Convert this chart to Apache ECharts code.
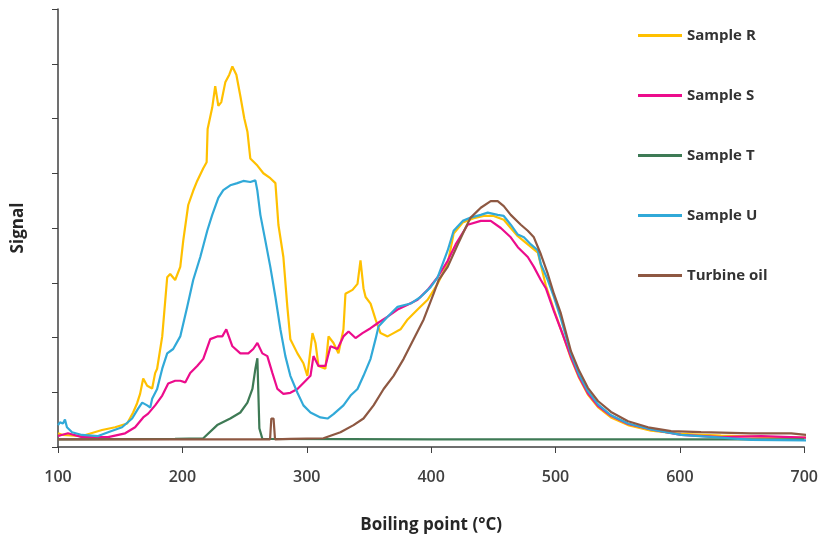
<!DOCTYPE html>
<html>
<head>
<meta charset="utf-8">
<script src="https://cdn.jsdelivr.net/npm/echarts@6/dist/echarts.min.js"></script>
<style>html,body{margin:0;padding:0;background:#fff}#c{width:821px;height:539px}</style>
</head>
<body>
<div id="c"></div>
<script>
const seriesNames = ['Sample R', 'Sample S', 'Sample T', 'Sample U', 'Turbine oil'];
const xTicks = [100, 200, 300, 400, 500, 600, 700];

const sampleR = [[100,0.25],[101.6,0.27],[104,0.22],[119.3,0.2],[135.4,0.31],[145.9,0.36],[155.6,0.43],[160.4,0.63],[163.6,0.8],[166,0.97],[168.5,1.25],[171.7,1.12],[175.7,1.07],[178.1,1.35],[179.7,1.43],[183.8,2.02],[187.8,3.1],[190.2,3.16],[194.2,3.05],[198.3,3.29],[200.7,3.77],[204.7,4.42],[208.7,4.68],[211.9,4.86],[216.8,5.09],[219.5,5.2],[220.3,5.81],[224,6.2],[226.4,6.59],[228.9,6.23],[231.3,6.3],[234.5,6.66],[237.7,6.8],[240.2,6.95],[243.4,6.8],[246.6,6.41],[249.8,6.0],[252.3,5.76],[254.6,5.27],[260.3,5.14],[265.1,5.0],[270.7,4.91],[274.8,4.82],[277.2,4.06],[281.2,3.47],[284.4,2.56],[286.8,1.97],[292.5,1.71],[297.3,1.53],[300.5,1.3],[304.6,2.08],[307,1.9],[309.4,1.48],[315,1.43],[317.5,2.02],[321.5,1.9],[325.5,1.71],[329.5,2.15],[331.1,2.8],[336.8,2.87],[340.8,2.98],[343.2,3.41],[345.6,2.9],[347.3,2.74],[351.3,2.62],[355.3,2.33],[359.3,2.08],[365,2.02],[369.8,2.08],[375.4,2.15],[381.1,2.33],[389.1,2.51],[397.2,2.69],[405.2,2.98],[413.3,3.35],[418.1,3.9],[425.4,4.1],[434.2,4.18],[442.3,4.22],[450.3,4.22],[458.4,4.15],[464,4.0],[469.7,3.85],[477.7,3.7],[485.8,3.55],[489,3.25],[492.2,2.95],[498.7,2.51],[505.9,2.05],[512.4,1.62],[518.8,1.27],[526,0.96],[534.1,0.73],[544.6,0.54],[558.3,0.4],[576.8,0.3],[601,0.24],[633.2,0.21],[673.4,0.18],[701.6,0.17]];

const sampleS = [[100,0.2],[101.6,0.22],[108,0.25],[119.3,0.18],[140.3,0.18],[154,0.25],[162,0.36],[168.5,0.54],[172.5,0.61],[178.1,0.76],[183.8,0.94],[188.6,1.16],[194.2,1.21],[198.3,1.21],[202.3,1.18],[206.3,1.35],[211.9,1.48],[216.8,1.61],[222.4,1.97],[228,2.02],[232.1,2.02],[235.3,2.15],[240.2,1.84],[246.6,1.71],[253,1.71],[257,1.79],[260.3,1.9],[264.3,1.71],[268.3,1.66],[272.4,1.35],[276.4,1.06],[281.2,0.97],[286.8,0.99],[292.5,1.06],[297.3,1.17],[303,1.3],[305.4,1.66],[309.4,1.48],[315,1.48],[319.1,1.84],[324.7,1.79],[329.5,2.02],[333.6,2.11],[339.2,1.99],[344.8,2.08],[351.3,2.17],[356.9,2.26],[365,2.38],[373,2.51],[381.1,2.6],[389.1,2.69],[397.2,2.87],[405.2,3.1],[413.3,3.4],[419.7,3.7],[429.4,4.06],[439.9,4.13],[447.9,4.13],[456,4.0],[464,3.83],[469.7,3.65],[477.7,3.47],[482.6,3.29],[488.2,3.05],[492.2,2.9],[498.7,2.48],[505.9,2.05],[512.4,1.64],[518.8,1.29],[526,0.98],[534.1,0.75],[544.6,0.57],[558.3,0.42],[576.8,0.32],[601,0.22],[633.2,0.18],[665.4,0.2],[701.6,0.17]];

const sampleT = [[100,0.14],[194,0.15],[216.8,0.16],[228,0.4],[238.5,0.52],[246.6,0.63],[252.3,0.81],[256.3,1.06],[258.7,1.43],[260.3,1.62],[261.1,1.62],[261.9,0.34],[264.3,0.15],[400,0.14],[700,0.14]];

const sampleU = [[100,0.4],[101.6,0.45],[104,0.43],[105.6,0.5],[107.2,0.36],[111.3,0.27],[119.3,0.22],[132.2,0.2],[140.3,0.27],[151.5,0.36],[159.6,0.52],[164.4,0.7],[167.7,0.81],[171.7,0.76],[174.2,0.72],[175.7,0.88],[179.7,1.06],[183.8,1.43],[187.8,1.71],[192.6,1.79],[198.3,2.02],[203.9,2.56],[208.7,3.05],[214.4,3.47],[220,3.95],[224,4.24],[228.9,4.55],[232.9,4.69],[238.5,4.78],[244.2,4.82],[249,4.86],[254.6,4.84],[258.7,4.87],[260.3,4.68],[262.7,4.24],[266.7,3.77],[270.7,3.29],[274.8,2.74],[278.8,2.15],[282.8,1.66],[286.8,1.3],[292.5,0.99],[297.3,0.76],[303,0.63],[311,0.54],[316.7,0.52],[321.5,0.6],[329.5,0.76],[335.2,0.94],[340.8,1.06],[345.6,1.3],[351.3,1.61],[355.3,1.97],[357.7,2.2],[365,2.38],[373,2.56],[383.5,2.62],[391.5,2.74],[399.6,2.92],[405.2,3.1],[413.3,3.59],[418.1,3.95],[425.4,4.13],[431.8,4.19],[439.9,4.24],[445.5,4.28],[453.5,4.24],[458.4,4.22],[464,4.06],[469.7,3.88],[474.6,3.83],[480.2,3.7],[485.8,3.59],[488.2,3.34],[493.8,3.05],[498.7,2.74],[504.3,2.35],[512.4,1.7],[518.8,1.33],[526,1.02],[534.1,0.78],[544.6,0.58],[558.3,0.43],[576.8,0.32],[601,0.22],[633.2,0.17],[657.3,0.13],[701.6,0.12]];

const turbineOil = [[100,0.14],[270.5,0.14],[271.5,0.52],[273.3,0.52],[274.5,0.14],[286.8,0.15],[313.4,0.16],[327.1,0.27],[337.6,0.4],[345.6,0.52],[353.7,0.76],[361.8,1.06],[369.8,1.3],[377.9,1.61],[385.9,1.97],[394,2.33],[402,2.8],[406,3.05],[413.3,3.29],[421.4,3.7],[427.8,4.01],[431.8,4.19],[439.9,4.37],[447.9,4.49],[453.5,4.49],[458.4,4.4],[464,4.24],[472.1,4.06],[477.7,3.95],[482.6,3.83],[488.2,3.52],[493.8,3.16],[498.7,2.8],[504.3,2.44],[512.4,1.75],[518.8,1.4],[526,1.08],[534.1,0.84],[544.6,0.64],[558.3,0.47],[574.4,0.36],[592.9,0.29],[617,0.27],[657.3,0.25],[689.5,0.25],[701.6,0.22]];

const seriesData = [sampleR, sampleS, sampleT, sampleU, turbineOil];
const colors = ['#FFC000', '#EC0C8C', '#3E7A55', '#31A9D8', '#8E5842'];

const chart = echarts.init(document.getElementById('c'), null, {renderer: 'canvas'});
const FONT = '"Open Sans", "Liberation Sans", sans-serif';
chart.setOption({
  animation: false,
  backgroundColor: '#ffffff',
  grid: {left: 58, right: 16, top: 9, bottom: 87, containLabel: false},
  legend: {
    orient: 'vertical',
    left: 633,
    top: 23,
    icon: 'rect',
    itemWidth: 44,
    itemHeight: 3,
    itemGap: 45,
    textStyle: {fontFamily: FONT, fontSize: 15, fontWeight: 'bold', color: '#333333'},
    data: seriesNames
  },
  xAxis: {
    type: 'value',
    min: 100, max: 700, interval: 100,
    name: 'Boiling point (°C)',
    nameLocation: 'middle',
    nameGap: 70,
    nameTextStyle: {fontFamily: FONT, fontSize: 17, fontWeight: 'bold', color: '#262626'},
    axisLine: {lineStyle: {color: '#404040', width: 1.5}},
    axisTick: {show: true, inside: false, length: 6, lineStyle: {color: '#404040'}},
    axisLabel: {fontFamily: FONT, fontSize: 16, fontWeight: 600, color: '#404040', margin: 22,
      formatter: function (v) { return xTicks.indexOf(v) >= 0 ? String(v) : ''; }},
    splitLine: {show: false}
  },
  yAxis: {
    type: 'value',
    min: 0, max: 8, interval: 1,
    name: 'Signal',
    nameLocation: 'middle',
    nameGap: 31,
    nameRotate: 90,
    nameTextStyle: {fontFamily: FONT, fontSize: 17, fontWeight: 'bold', color: '#262626'},
    axisLine: {show: true, lineStyle: {color: '#404040', width: 1.5}},
    axisTick: {show: true, inside: false, length: 6, lineStyle: {color: '#404040'}},
    axisLabel: {show: false},
    splitLine: {show: false}
  },
  series: seriesNames.map(function (n, i) {
    return {
      name: n,
      type: 'line',
      data: seriesData[i],
      symbol: 'none',
      showSymbol: false,
      smooth: false,
      color: colors[i],
      lineStyle: {width: 2.2, color: colors[i]},
      itemStyle: {color: colors[i]},
      z: 2 + i
    };
  })
});
</script>
</body>
</html>
